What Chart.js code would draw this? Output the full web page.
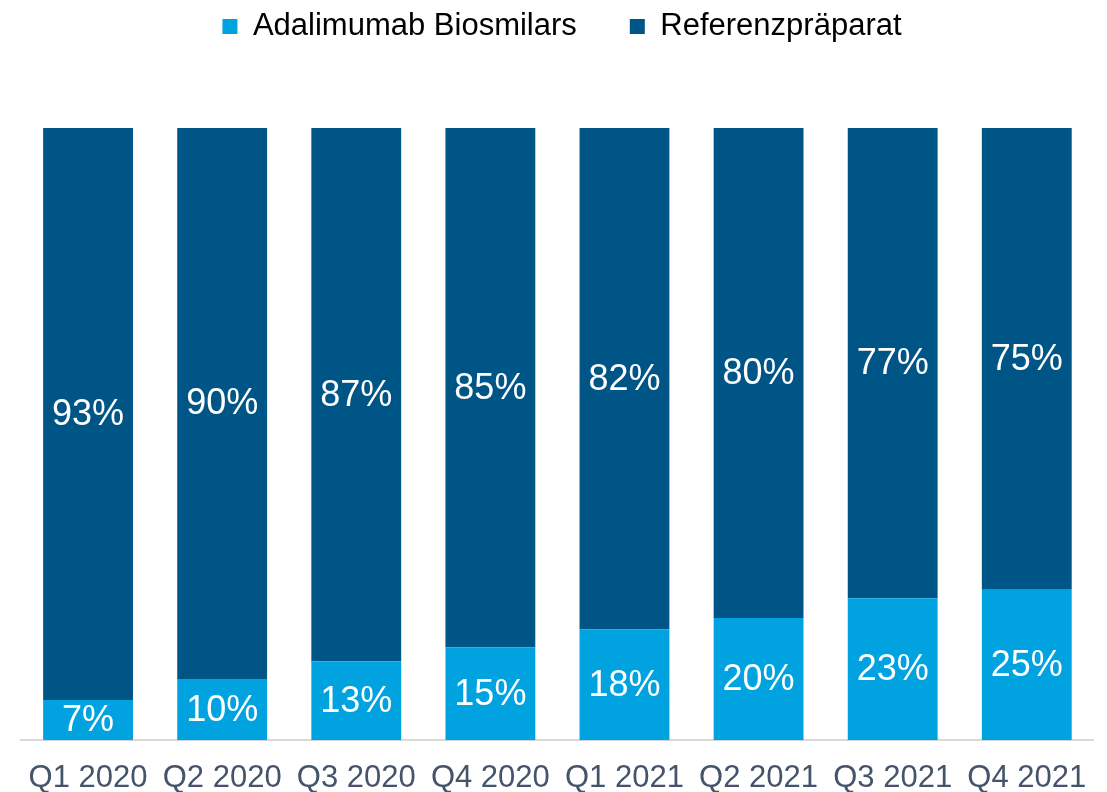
<!DOCTYPE html>
<html>
<head>
<meta charset="utf-8">
<script src="https://cdn.jsdelivr.net/npm/chart.js@4"></script>
<style>
html,body{margin:0;padding:0;background:#fff;}
#wrap{width:1107px;height:792px;position:relative;}
</style>
</head>
<body>
<div id="wrap"><canvas id="c" width="1107" height="792"></canvas></div>
<script>
const categories = ["Q1 2020","Q2 2020","Q3 2020","Q4 2020","Q1 2021","Q2 2021","Q3 2021","Q4 2021"];
const biosimilars = [6.6, 10, 12.9, 15.2, 18.1, 20, 23.2, 24.6];
const referenz = [93.4, 90, 87.1, 84.8, 81.9, 80, 76.8, 75.4];
const seriesNames = ["Adalimumab Biosmilars", "Referenzpräparat"];
const colors = ["#00a3e0", "#005587"];

const FONT = '"Liberation Sans", Arial, sans-serif';

const labelPlugin = {
  id: 'barLabels',
  afterDatasetsDraw(chart) {
    const ctx = chart.ctx;
    ctx.save();
    ctx.font = '36px ' + FONT;
    ctx.fillStyle = '#ffffff';
    ctx.textAlign = 'center';
    ctx.textBaseline = 'middle';
    chart.data.datasets.forEach((ds, i) => {
      const meta = chart.getDatasetMeta(i);
      meta.data.forEach((bar, j) => {
        const y = (bar.y + bar.base) / 2;
        ctx.fillText(Math.round(ds.data[j]) + '%', bar.x, y + 1);
      });
    });
    ctx.restore();
  }
};

const legendGap = {
  id: 'legendGap',
  beforeInit(chart) {
    const fit = chart.legend.fit;
    chart.legend.fit = function () {
      fit.call(this);
      this.height += 76;
    };
  },
  afterLayout(chart) {
    chart.legend.left += 4;
    chart.legend.right += 4;
  }
};

new Chart(document.getElementById('c'), {
  type: 'bar',
  data: {
    labels: categories,
    datasets: [
      { label: seriesNames[0], data: biosimilars, backgroundColor: colors[0], categoryPercentage: 1, barPercentage: 0.67 },
      { label: seriesNames[1], data: referenz, backgroundColor: colors[1], categoryPercentage: 1, barPercentage: 0.67 }
    ]
  },
  options: {
    responsive: false,
    animation: false,
    layout: { padding: { left: 21, right: 12, top: -42, bottom: -24 } },
    plugins: {
      legend: {
        position: 'top',
        labels: {
          font: { size: 31, family: FONT },
          color: '#000000',
          boxWidth: 15,
          boxHeight: 15,
          padding: 53
        }
      },
      tooltip: { enabled: false }
    },
    scales: {
      x: {
        stacked: true,
        grid: { display: false, drawTicks: false },
        border: { display: true, color: '#d9d9d9', width: 2 },
        ticks: {
          font: { size: 31, family: FONT, lineHeight: 1.15 },
          color: '#44546a',
          padding: 20,
          maxRotation: 0,
          autoSkip: false
        }
      },
      y: {
        stacked: true,
        display: false,
        min: 0,
        max: 100
      }
    }
  },
  plugins: [labelPlugin, legendGap]
});
</script>
</body>
</html>
